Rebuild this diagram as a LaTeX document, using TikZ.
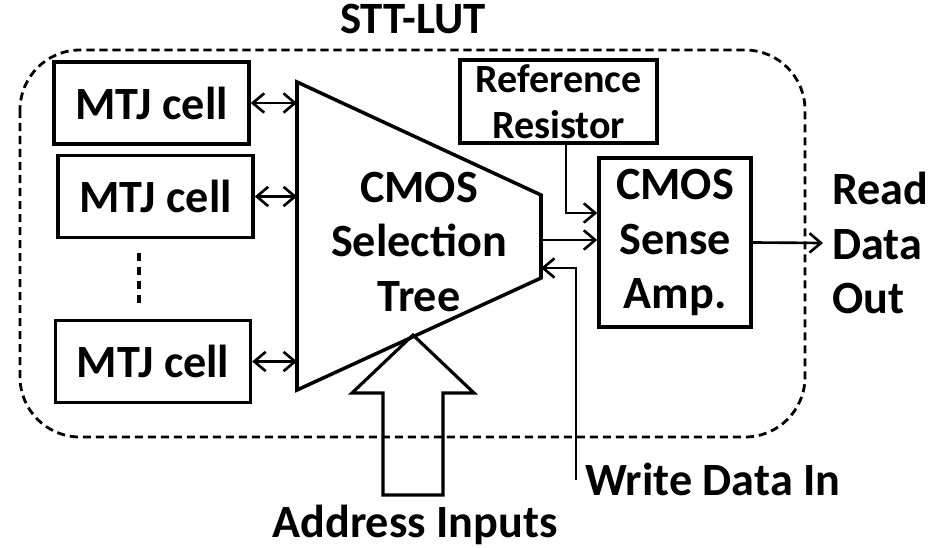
\documentclass[tikz,border=0pt]{standalone}
\usepackage{fontspec}
\setmainfont{Carlito}
\usepackage{tikz}
\usetikzlibrary{arrows.meta, positioning, calc}
\definecolor{lineBlack}{HTML}{000000}
\colorlet{frame}{lineBlack}

\begin{document}
\begin{tikzpicture}[x=0.02cm, y=-0.02cm,
    font=\bfseries\fontsize{26.3}{31}\selectfont,
    blk/.style={draw=lineBlack, line width=2pt, align=center, inner sep=0pt},
    cellbox/.style={blk, minimum width=3.9cm, minimum height=1.64cm},
    lbl/.style={inner sep=0pt, align=left},
    link/.style={line width=1.5pt, -{Straight Barb[length=6.5pt, width=11pt, line width=1.5pt]}},
    bilink/.style={line width=1.5pt, {Straight Barb[length=6.5pt, width=11pt, line width=1.5pt]}-{Straight Barb[length=6.5pt, width=11pt, line width=1.5pt]}},
    dashframe/.style={frame, line width=1.6pt, dash pattern=on 4.6pt off 2.8pt}]
  \useasboundingbox (0,0) rectangle (944,548);

  % outer LUT frame
  \draw[dashframe, rounded corners=1.2cm] (20,50) rectangle (805,437);
  \node[lbl, anchor=base, font=\bfseries\fontsize{25.5}{31}\selectfont] (lut) at (413,33) {STT-LUT};

  % memory cells
  \node[cellbox] (cell1) at (151.5,103) {MTJ cell};
  \node[cellbox] (cell2) at (155.5,196.5) {MTJ cell};
  \node[cellbox] (cell3) at (153,361.5) {MTJ cell};
  \coordinate (dotA) at (139,253);
  \coordinate (dotB) at (139,305);
  \draw[line width=2pt, dash pattern=on 4.5pt off 3.5pt] (dotA) -- (dotB);

  % selection tree
  \coordinate (tl) at (297,82);
  \coordinate (tr) at (541,195);
  \coordinate (br) at (541,278);
  \coordinate (bl) at (297,390);
  \draw[line width=2pt, line join=miter] (tl) -- (tr) -- (br) -- (bl) -- cycle;
  \node[lbl, align=center] (sel) at (419,242) {CMOS\\Selection\\Tree};

  \foreach \c in {cell1,cell2,cell3}
    \draw[bilink] (\c.east) -- (\c.east -| tl);

  % reference and sense amplifier
  \node[blk, minimum width=3.94cm, minimum height=1.66cm,
        font=\bfseries\fontsize{22.8}{26}\selectfont] (ref) at (558.5,101.5) {Reference\\Resistor};
  \node[blk, minimum width=3.04cm, minimum height=3.38cm] (sa) at (675,242.5) {CMOS\\Sense\\Amp.};

  \coordinate (treeOut) at (541,240);
  \coordinate (treeIn) at (541,268);
  \draw[link] (treeOut) -- (treeOut -| sa.west);
  \draw[link] ([xshift=0.15cm]ref.south) |- ([yshift=0.59cm]sa.west);

  \node[lbl, anchor=west, inner sep=5pt] (rd) at (823,243) {Read\\Data\\Out};
  \draw[link] (sa.east) -- (rd.west);

  % write data
  \node[lbl, anchor=base west] (wd) at (585,495) {Write Data In};
  \coordinate (wr) at (576,480);
  \draw[link] (wr) |- (treeIn);

  % address bus
  \draw[line width=1.8pt, line join=miter] (383,495) -- (383,393) -- (352,393) -- (413,335)
      -- (474,393) -- (443,393) -- (443,495) -- cycle;
  \node[lbl, anchor=base] (addr) at (415,537) {Address Inputs};
\end{tikzpicture}
\end{document}
